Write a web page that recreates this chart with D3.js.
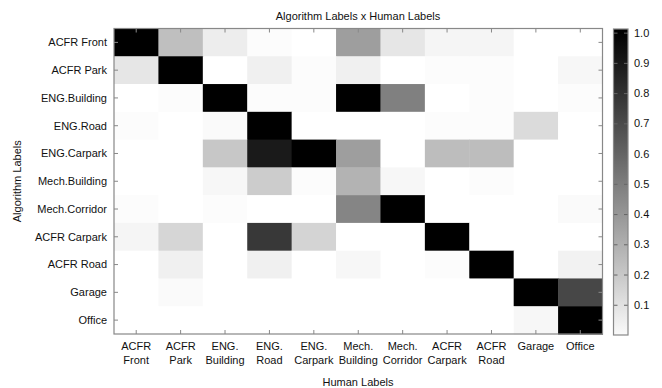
<!DOCTYPE html>
<html>
<head>
<meta charset="utf-8">
<script src="https://cdn.jsdelivr.net/npm/d3@7"></script>
<style>
  body { margin: 0; background: #fff; }
  svg text { font-family: "Liberation Sans", Arial, sans-serif; fill: #111; }
</style>
</head>
<body>
<div id="chart"></div>
<script>
// rows = algorithm labels, columns = human labels
const rowLabels = ["ACFR Front", "ACFR Park", "ENG.Building", "ENG.Road", "ENG.Carpark",
  "Mech.Building", "Mech.Corridor", "ACFR Carpark", "ACFR Road", "Garage", "Office"];
const colLabels = [["ACFR", "Front"], ["ACFR", "Park"], ["ENG.", "Building"], ["ENG.", "Road"],
  ["ENG.", "Carpark"], ["Mech.", "Building"], ["Mech.", "Corridor"], ["ACFR", "Carpark"],
  ["ACFR", "Road"], ["Garage"], ["Office"]];
const matrix = [
  [1.00, 0.25, 0.07, 0.01, 0.00, 0.38, 0.10, 0.04, 0.04, 0.00, 0.00],
  [0.10, 1.00, 0.00, 0.06, 0.01, 0.06, 0.00, 0.01, 0.01, 0.00, 0.03],
  [0.00, 0.01, 1.00, 0.01, 0.01, 1.00, 0.50, 0.00, 0.01, 0.00, 0.01],
  [0.01, 0.00, 0.02, 1.00, 0.00, 0.00, 0.00, 0.01, 0.01, 0.14, 0.00],
  [0.00, 0.00, 0.22, 0.90, 1.00, 0.38, 0.00, 0.26, 0.26, 0.00, 0.00],
  [0.00, 0.00, 0.03, 0.20, 0.01, 0.30, 0.03, 0.00, 0.01, 0.00, 0.00],
  [0.01, 0.00, 0.01, 0.00, 0.00, 0.48, 1.00, 0.00, 0.00, 0.00, 0.02],
  [0.04, 0.16, 0.00, 0.78, 0.17, 0.00, 0.00, 1.00, 0.00, 0.00, 0.00],
  [0.00, 0.06, 0.00, 0.06, 0.00, 0.03, 0.00, 0.01, 1.00, 0.00, 0.05],
  [0.00, 0.02, 0.00, 0.00, 0.00, 0.00, 0.00, 0.00, 0.00, 1.00, 0.72],
  [0.00, 0.00, 0.00, 0.00, 0.00, 0.00, 0.00, 0.00, 0.00, 0.03, 1.00]
];
const cbarTicks = [0.1, 0.2, 0.3, 0.4, 0.5, 0.6, 0.7, 0.8, 0.9, 1.0];

const width = 662, height = 388;
const plot = { left: 114, top: 28.5, right: 602.5, bottom: 334 };

const svg = d3.select("#chart").append("svg")
  .attr("width", width)
  .attr("height", height);

const x = d3.scaleBand().domain(d3.range(colLabels.length)).range([plot.left, plot.right]);
const y = d3.scaleBand().domain(d3.range(rowLabels.length)).range([plot.top, plot.bottom]);
const color = d3.scaleLinear().domain([0, 1]).range(["#ffffff", "#000000"]);

// cells
const cells = [];
matrix.forEach((row, r) => row.forEach((v, c) => cells.push({ r, c, v })));
svg.append("g").selectAll("rect")
  .data(cells)
  .enter().append("rect")
  .attr("x", d => x(d.c))
  .attr("y", d => y(d.r))
  .attr("width", x.bandwidth() + 0.5)
  .attr("height", y.bandwidth() + 0.5)
  .attr("fill", d => color(d.v));

// frame + inward ticks
const axisColor = "#888";
function styleAxis(g) {
  g.select(".domain").remove();
  g.selectAll(".tick line").attr("stroke", axisColor);
}
svg.append("g").attr("transform", `translate(0,${plot.bottom})`)
  .call(d3.axisBottom(x).tickSize(-4).tickFormat(""))
  .call(styleAxis);
svg.append("g").attr("transform", `translate(0,${plot.top})`)
  .call(d3.axisTop(x).tickSize(-4).tickFormat(""))
  .call(styleAxis);
svg.append("g").attr("transform", `translate(${plot.left},0)`)
  .call(d3.axisLeft(y).tickSize(-4).tickFormat(""))
  .call(styleAxis);
svg.append("g").attr("transform", `translate(${plot.right},0)`)
  .call(d3.axisRight(y).tickSize(-4).tickFormat(""))
  .call(styleAxis);
svg.append("rect")
  .attr("x", plot.left).attr("y", plot.top)
  .attr("width", plot.right - plot.left).attr("height", plot.bottom - plot.top)
  .attr("fill", "none").attr("stroke", axisColor).attr("stroke-width", 1.2);

// row labels
svg.append("g").selectAll("text")
  .data(rowLabels)
  .enter().append("text")
  .attr("x", plot.left - 7)
  .attr("y", (d, i) => y(i) + y.bandwidth() / 2)
  .attr("dy", "0.35em")
  .attr("text-anchor", "end")
  .attr("font-size", 11)
  .text(d => d);

// column labels (two lines)
const colText = svg.append("g").selectAll("text")
  .data(colLabels)
  .enter().append("text")
  .attr("text-anchor", "middle")
  .attr("font-size", 11)
  .attr("transform", (d, i) => `translate(${x(i) + x.bandwidth() / 2},${plot.bottom + 16})`);
colText.selectAll("tspan")
  .data(d => d)
  .enter().append("tspan")
  .attr("x", 0)
  .attr("dy", (d, i) => i === 0 ? 0 : 13.5)
  .text(d => d);

// titles
svg.append("text")
  .attr("x", 358).attr("y", 20)
  .attr("text-anchor", "middle").attr("font-size", 11)
  .text("Algorithm Labels x Human Labels");
svg.append("text")
  .attr("x", 358).attr("y", 386)
  .attr("text-anchor", "middle").attr("font-size", 11)
  .text("Human Labels");
svg.append("text")
  .attr("transform", `translate(21,${(plot.top + plot.bottom) / 2}) rotate(-90)`)
  .attr("text-anchor", "middle").attr("font-size", 11)
  .text("Algorithm Labels");

// colorbar
const cb = { left: 613.5, right: 628, top: 29, bottom: 335 };
const cbScale = d3.scaleLinear().domain([0, 1.012]).range([cb.bottom, cb.top]);
const defs = svg.append("defs");
const grad = defs.append("linearGradient")
  .attr("id", "cbar")
  .attr("x1", 0).attr("y1", 1).attr("x2", 0).attr("y2", 0);
d3.range(0, 1.0001, 0.1).forEach(t => {
  grad.append("stop").attr("offset", t).attr("stop-color", color(0.02 + t * 0.99));
});
svg.append("rect")
  .attr("x", cb.left).attr("y", cb.top)
  .attr("width", cb.right - cb.left).attr("height", cb.bottom - cb.top)
  .attr("fill", "url(#cbar)");
svg.append("g").attr("transform", `translate(${cb.left},0)`)
  .call(d3.axisLeft(cbScale).tickValues(cbarTicks).tickSize(-4).tickFormat(""))
  .call(g => { g.select(".domain").remove(); g.selectAll(".tick line").attr("stroke", "#666"); });
svg.append("g").attr("transform", `translate(${cb.right},0)`)
  .call(d3.axisRight(cbScale).tickValues(cbarTicks).tickSize(-4).tickPadding(6).tickFormat(d3.format(".1f")))
  .call(g => {
    g.select(".domain").remove();
    g.selectAll(".tick line").attr("stroke", "#666");
    g.selectAll(".tick text").attr("font-size", 11).attr("font-family", "Liberation Sans, Arial, sans-serif").attr("fill", "#111");
  });
svg.append("rect")
  .attr("x", cb.left).attr("y", cb.top)
  .attr("width", cb.right - cb.left).attr("height", cb.bottom - cb.top)
  .attr("fill", "none").attr("stroke", axisColor).attr("stroke-width", 1.2);
</script>
</body>
</html>
